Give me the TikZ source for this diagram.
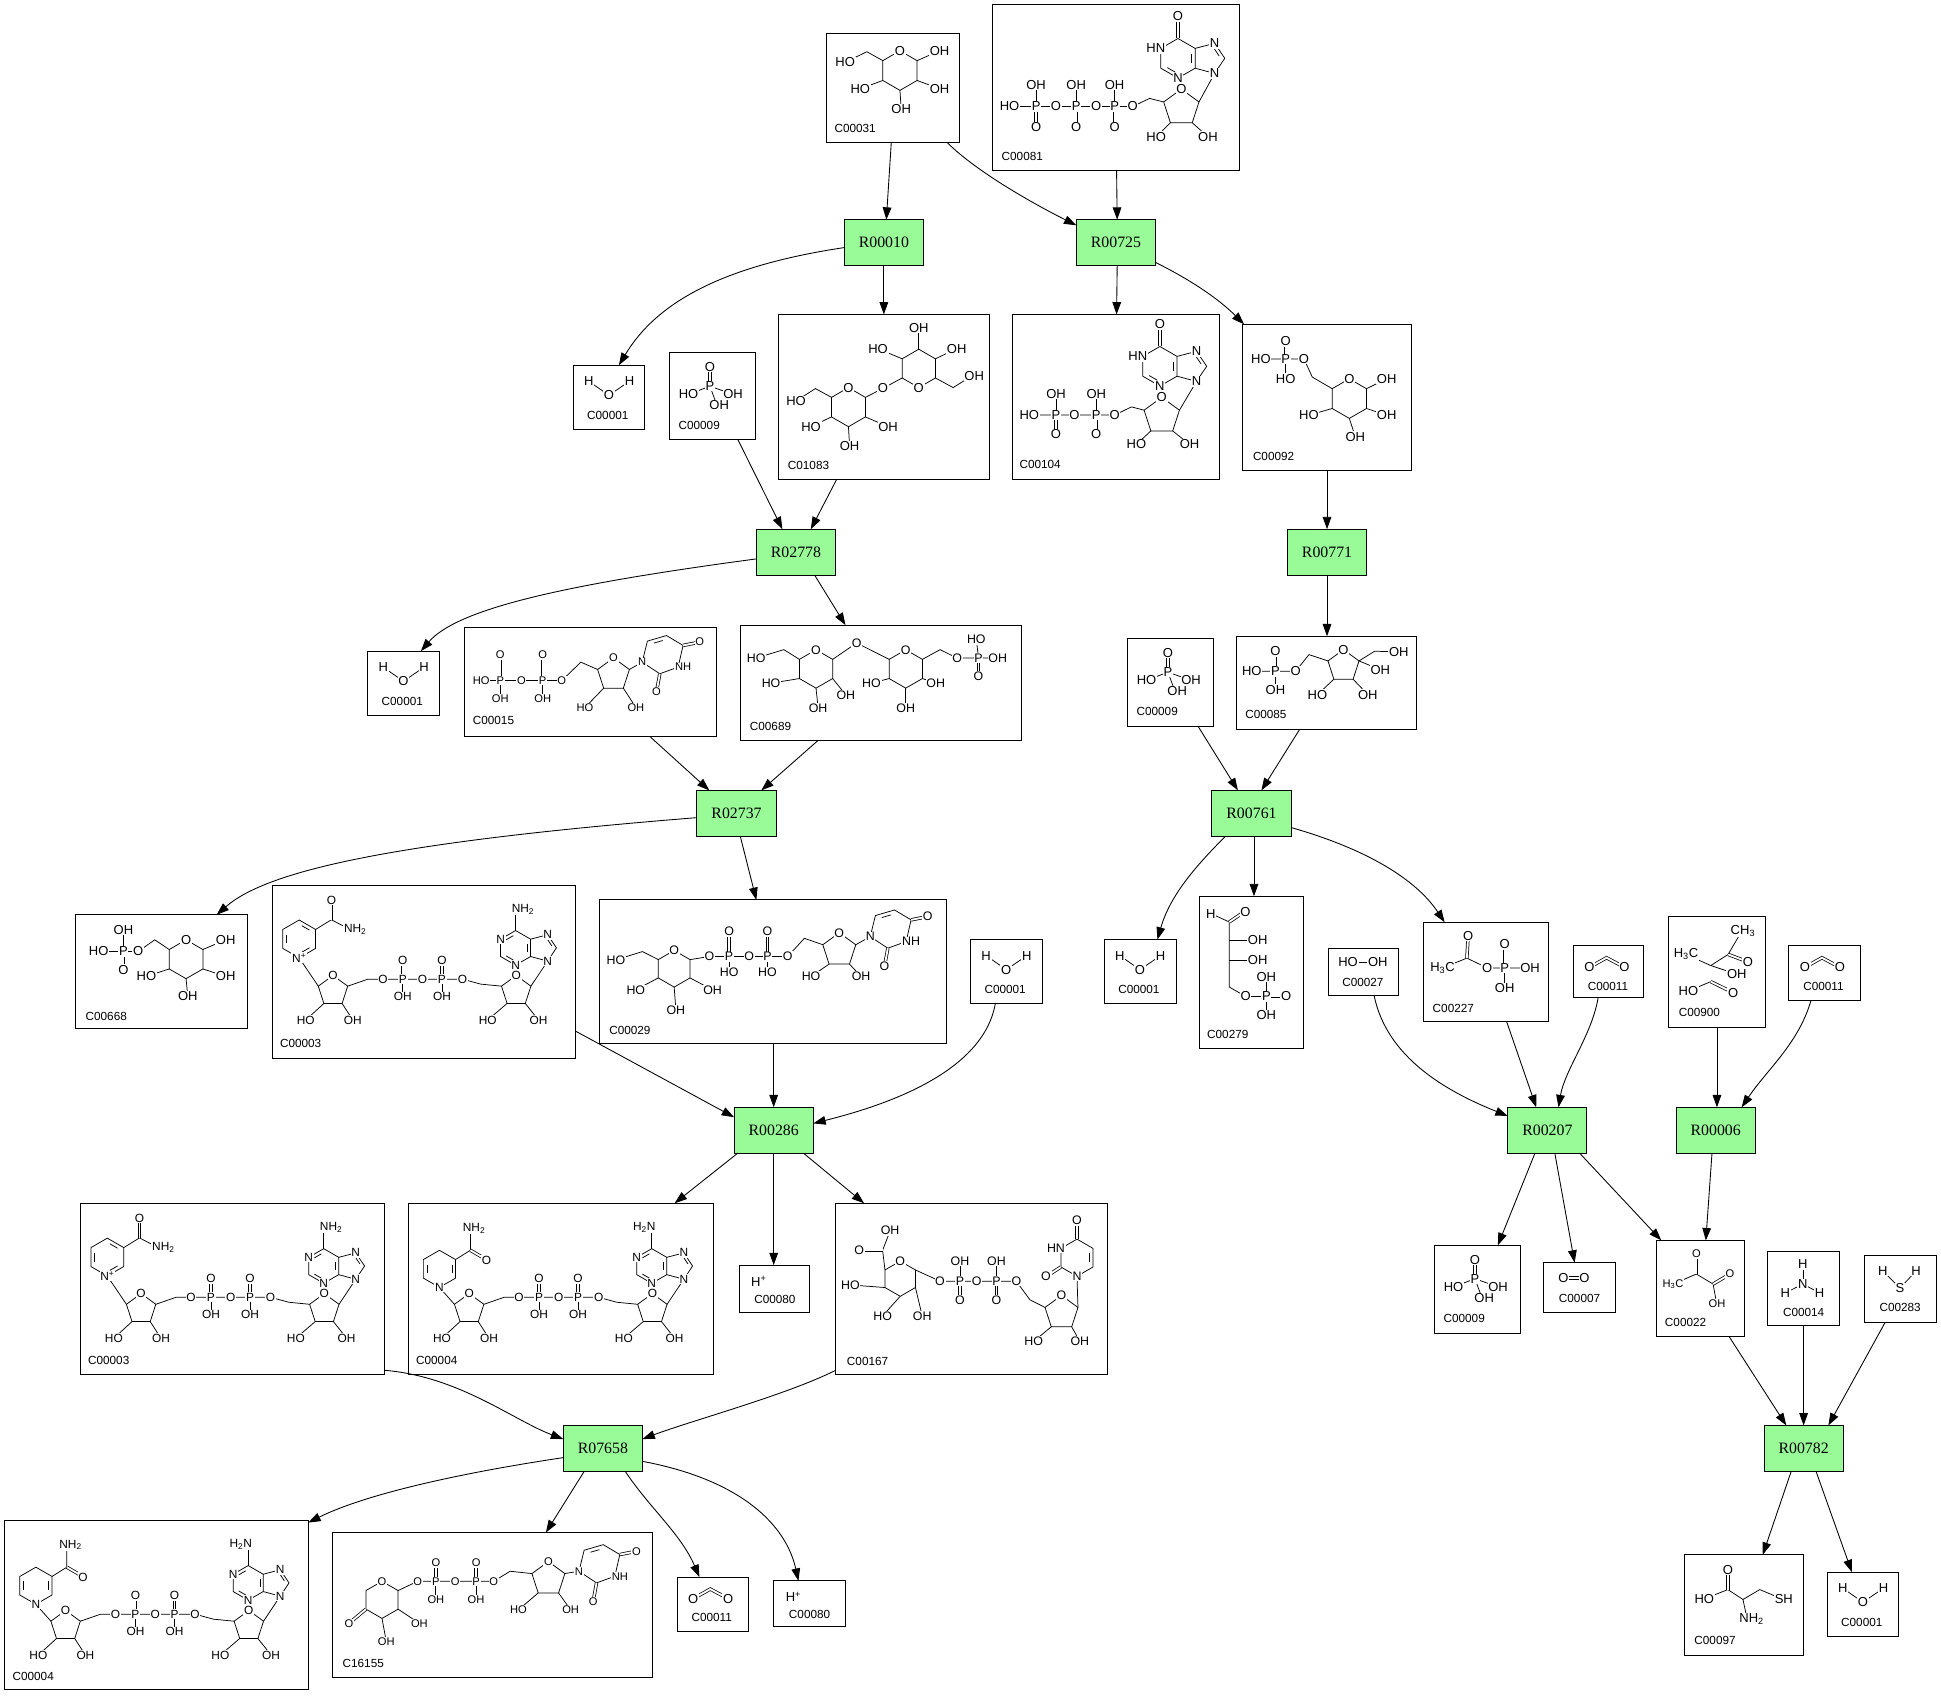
\documentclass[tikz,border=0pt]{standalone}
\usepackage{fontspec}
\setmainfont{Liberation Serif}
\setsansfont{Liberation Sans}
\usetikzlibrary{arrows.meta,calc}
\definecolor{rgreen}{RGB}{152,251,152}
\tikzset{
 cbox/.style={draw, line width=0.8pt, rectangle, inner sep=0pt, outer sep=0pt, anchor=north west},
 rbox/.style={draw, line width=0.8pt, fill=rgreen, rectangle, minimum width=64pt, minimum height=37pt, inner sep=0pt, outer sep=0pt, font=\fontsize{12.8}{12.8}\selectfont},
 cid/.style={font=\fontsize{9.5}{9.5}\sffamily, inner sep=0pt},
 arr/.style={line width=0.7pt, -{Triangle[length=10pt,width=7pt]}},
 bond/.style={line width=0.6pt},
 dblb/.style={line width=0.6pt, double, double distance=1.5pt},
 atm/.style={fill=white, inner sep=0.6pt, font=\fontsize{10.5}{10.5}\sffamily},
 fA/.style={atm/.append style={font=\fontsize{10.5}{10.5}\sffamily}},
 fB/.style={atm/.append style={font=\fontsize{9}{9}\sffamily}},
 fC/.style={atm/.append style={font=\fontsize{10}{10}\sffamily}},
 fN/.style={atm/.append style={font=\fontsize{9.6}{9.6}\sffamily}},
}
\newcommand\AT[3][]{\node[atm,#1] at (#2) {#3};}
\newcommand\hexc[4]{%
 \coordinate (#1c) at (#2,#3);
 \coordinate (#11) at ({#2},{#3-#4});
 \coordinate (#12) at ({#2+0.866*#4},{#3-0.5*#4});
 \coordinate (#13) at ({#2+0.866*#4},{#3+0.5*#4});
 \coordinate (#14) at ({#2},{#3+#4});
 \coordinate (#15) at ({#2-0.866*#4},{#3+0.5*#4});
 \coordinate (#16) at ({#2-0.866*#4},{#3-0.5*#4});
 \draw[bond] (#11)--(#12)--(#13)--(#14)--(#15)--(#16)--cycle;}
\newcommand\pentc[4]{%
 \coordinate (#1c) at (#2,#3);
 \coordinate (#11) at ({#2},{#3-#4});
 \coordinate (#12) at ({#2+0.951*#4},{#3-0.309*#4});
 \coordinate (#13) at ({#2+0.588*#4},{#3+0.809*#4});
 \coordinate (#14) at ({#2-0.588*#4},{#3+0.809*#4});
 \coordinate (#15) at ({#2-0.951*#4},{#3-0.309*#4});
 \draw[bond] (#11)--(#12)--(#13)--(#14)--(#15)--cycle;}
\newcommand\dbl[3]{%
 \coordinate (dbA) at ($(#1)!0.2!(#2)$);
 \coordinate (dbB) at ($(#2)!0.2!(#1)$);
 \draw[bond] ($(dbA)!0.22!(#3)$)--($(dbB)!0.22!(#3)$);}
\newcommand\Pbd[6]{\draw[bond] (#1,#2)--(#1,#3); \draw[dblb] (#1,#2)--(#1,#4); \AT{#1,#2}{P}\AT{#1,#3}{#5}\AT{#1,#4}{#6}}
\newcommand\Ptd[6]{\draw[dblb] (#1,#2)--(#1,#3); \draw[bond] (#1,#2)--(#1,#4); \AT{#1,#2}{P}\AT{#1,#3}{#5}\AT{#1,#4}{#6}}
\newcommand\hypox[2]{%
 \hexc{p}{#1}{#2}{16}
 \coordinate (p7) at ({#1+29.6},{#2-12.1});
 \coordinate (p8) at ({#1+37.8},{#2});
 \coordinate (p9) at ({#1+29.6},{#2+12.2});
 \coordinate (pm) at ({#1+23},{#2});
 \draw[bond] (p2)--(p7)--(p8)--(p9)--(p3);
 \draw[dblb] (p1)--({#1},{#2-32});
 \dbl{p2}{p3}{pc}\dbl{p4}{p5}{pc}\dbl{p7}{p8}{pm}}
\newcommand\hypoxlab[2]{\AT{{#1},{#2-34}}{O}\AT{$(p6)+(-4,0)$}{HN}\AT{p4}{N}\AT{p7}{N}\AT{p9}{N}}
\newcommand\adenine[4]{%
 \hexc{d}{#1}{#2}{14}
 \coordinate (d7) at ({#1+25.9},{#2-10.6});
 \coordinate (d8) at ({#1+33},{#2});
 \coordinate (d9) at ({#1+25.9},{#2+10.7});
 \coordinate (dm) at ({#1+21},{#2});
 \draw[bond] (d2)--(d7)--(d8)--(d9)--(d3);
 \draw[bond] (d1)--({#1},{#2-28});
 \dbl{d6}{d1}{dc}\dbl{d4}{d5}{dc}\dbl{d2}{d3}{dc}\dbl{d7}{d8}{dm}
 \AT{d6}{N}\AT{d4}{N}\AT{d7}{N}\AT{{#1+(#4)},{#2-31}}{#3}}
\newcommand\uracil[2]{%
 \coordinate (u1) at (#1,#2);
 \coordinate (u6) at ({#1+4.2},{#2-17});
 \coordinate (u5) at ({#1+19.6},{#2-21.5});
 \coordinate (u4) at ({#1+33},{#2-13.5});
 \coordinate (u3) at ({#1+29},{#2+4});
 \coordinate (u2) at ({#1+14.2},{#2+9.4});
 \coordinate (uc) at ({#1+16.7},{#2-6.4});
 \draw[bond] (u1)--(u6)--(u5)--(u4)--(u3)--(u2)--cycle;
 \dbl{u6}{u5}{uc}
 \draw[dblb] (u4)--({#1+46.5},{#2-16.2}); \draw[dblb] (u2)--({#1+11.5},{#2+24.2});}
\newcommand\uracillab[2]{\AT{u1}{N}\AT{$(u3)+(4,0)$}{NH}\AT{{#1+46.5},{#2-16.2}}{O}\AT{{#1+11.5},{#2+24.2}}{O}}
\newcommand\NADtail[2]{%
 \pentc{f}{49}{85.5}{12.5}
 \pentc{g}{197}{85.5}{12.5}
 \adenine{196.5}{50.7}{#1}{#2}
 \draw[bond] (f4)--(27,109); \draw[bond] (f3)--(65,109);
 \draw[bond] (f2)--(77.2,76)--(153.6,76)--(168.4,80)--(g5);
 \draw[bond] (g4)--(174,109); \draw[bond] (g3)--(215,109); \draw[bond] (g2)--(d9);
 \Ptd{105.4}{76}{61}{90}{O}{OH}\Ptd{137}{76}{61}{90}{O}{OH}
 \AT{d9}{N}\AT{f1}{O}\AT{g1}{O}\AT{89.3,76}{O}\AT{121.4,76}{O}\AT{153.6,76}{O}
 \AT{27,109}{HO}\AT{65,109}{OH}\AT{174,109}{HO}\AT{215,109}{OH}}
\newcommand\NADox{%
 \hexc{n}{21.7}{43.5}{15.3}
 \dbl{n5}{n6}{nc}\dbl{n1}{n2}{nc}\dbl{n3}{n4}{nc}
 \draw[bond] (n2)--(47.7,28)--(63,36); \draw[dblb] (47.7,28)--(47.7,13);
 \draw[bond] (n4)--(f5);
 \AT{47.7,12}{O}\AT{67,36}{NH\textsubscript{2}}\AT{n4}{N\textsuperscript{+}}}
\newcommand\NADred{%
 \hexc{n}{25}{53}{15}
 \dbl{n2}{n3}{nc}\dbl{n5}{n6}{nc}
 \draw[bond] (n2)--(50,38)--(50,25); \draw[dblb] (50,38)--(62,45);
 \draw[bond] (n4)--(f5);
 \AT{53,20}{NH\textsubscript{2}}\AT{63,46}{O}\AT{n4}{N}}
\newcommand\water{\draw[bond] (12.6,13)--(28.9,24.3)--(45.5,13); \AT{12.6,13}{H}\AT{28.9,24.3}{O}\AT{45.5,13}{H}}
\newcommand\phos{\draw[dblb] (32.5,27)--(32.5,12); \draw[bond] (15.2,33.6)--(32.5,27)--(51.2,33.6); \draw[bond] (32.5,27)--(38,42);
 \AT{32.5,27}{P}\AT{32.5,11.5}{O}\AT{15.2,33.6}{HO}\AT{51.2,33.6}{OH}\AT{40,42.5}{OH}}
\newcommand\cotwo{\draw[dblb] (13,17.4)--(26.8,9.7)--(41.3,17.4); \AT{13,17.4}{O}\AT{41.3,17.4}{O}}
\newcommand\hplus{\AT{16,13}{H\textsuperscript{+}}}
\newcommand\cmp[9][west]{%
 \node[cbox, minimum width=#5pt, minimum height=#6pt] (#2) at (#3,#4) {};
 \node[cid, anchor=#1] (#2id) at ($(#2.north west)+(#8,#9)$) {#7};}
\begin{document}
\begin{tikzpicture}[x=1pt,y=-1pt]
\fill[white] (0,0) rectangle (1568,1370);
\useasboundingbox (0,0) rectangle (1568,1370);

% ---------- reactions ----------
\node[rbox] (r10) at (714,196) {R00010};
\node[rbox] (r725) at (901.5,196) {R00725};
\node[rbox] (r2778) at (643,446) {R02778};
\node[rbox] (r771) at (1072,446) {R00771};
\node[rbox] (r2737) at (595,657) {R02737};
\node[rbox] (r761) at (1011,657) {R00761};
\node[rbox] (r286) at (625,913) {R00286};
\node[rbox] (r207) at (1250,913) {R00207};
\node[rbox] (r6) at (1386,913) {R00006};
\node[rbox] (r7658) at (487,1170) {R07658};
\node[rbox] (r782) at (1457,1170) {R00782};

% ---------- compounds ----------
\cmp{c31}{668}{27}{107}{88}{C00031}{6}{77}
\begin{scope}[shift={(c31.north west)},fA]
\hexc{a}{59}{30}{16}
\draw[bond] (a6)--(32.3,14.8)--(14.7,23.3);
\draw[bond] (a2)--(91,14); \draw[bond] (a3)--(91,44.7); \draw[bond] (a5)--(27,44.7); \draw[bond] (a4)--(60,61);
\AT{a1}{O}\AT{14.7,23.3}{HO}\AT{91,14}{OH}\AT{91,44.7}{OH}\AT{27,44.7}{HO}\AT{60,61}{OH}
\end{scope}

\cmp{c81}{802}{4}{199}{134}{C00081}{7}{122.6}
\begin{scope}[shift={(c81.north west)},fA]
\hypox{149.6}{43.1}
\pentc{f}{152.3}{83}{15}
\draw[bond] (f2)--(p9);
\draw[bond] (f5)--(126.7,75.5)--(113,82)--(13.5,82);
\draw[bond] (f4)--(132,106.5); \draw[bond] (f3)--(173.8,106.5);
\hypoxlab{149.6}{43.1}
\Pbd{98.4}{82}{64.7}{99}{OH}{O}\Pbd{67.4}{82}{64.7}{99}{OH}{O}\Pbd{35}{82}{64.7}{99}{OH}{O}
\AT{113,82}{O}\AT{83.6,82}{O}\AT{51,82}{O}\AT{13.5,82}{HO}\AT{f1}{O}\AT{132,106.5}{HO}\AT{173.8,106.5}{OH}
\end{scope}

\cmp[center]{c1a}{463}{295}{58}{52}{C00001}{28}{40.5}
\begin{scope}[shift={(c1a.north west)},fA]\water\end{scope}

\cmp{c9a}{541}{285}{69}{70}{C00009}{7}{58.5}
\begin{scope}[shift={(c9a.north west)},fA]\phos\end{scope}

\cmp{c1083}{629}{254}{170}{133}{C01083}{7.3}{121.8}
\begin{scope}[shift={(c1083.north west)},fA]
\hexc{a}{56.4}{74.9}{15.8}
\hexc{b}{113.2}{43.6}{15.5}
\draw[bond] (a6)--(29.7,59.9)--(14.1,69.9);
\draw[bond] (a5)--(26.2,90.6); \draw[bond] (a4)--(57.3,106.2); \draw[bond] (a3)--(88.4,90.6);
\draw[bond] (a2)--(84.3,59.7)--(b5);
\draw[bond] (b1)--(113.2,10.8); \draw[bond] (b6)--(80.3,27.7); \draw[bond] (b2)--(143.8,27.7);
\draw[bond] (b3)--(141,59.1)--(156,49.7);
\AT{a1}{O}\AT{b4}{O}\AT{84.3,59.7}{O}\AT{14.1,69.9}{HO}\AT{26.2,90.6}{HO}\AT{57.3,106.2}{OH}\AT{88.4,90.6}{OH}
\AT{113.2,10.8}{OH}\AT{80.3,27.7}{HO}\AT{143.8,27.7}{OH}\AT{158,49.7}{OH}
\end{scope}

\cmp{c104}{818}{254}{167}{133}{C00104}{5.4}{120.8}
\begin{scope}[shift={(c104.north west)},fA]
\hypox{119}{41.9}
\pentc{f}{120.5}{82}{15}
\draw[bond] (f2)--(p9);
\draw[bond] (f5)--(96,74.7)--(82.4,81.3)--(13.5,81.3);
\draw[bond] (f4)--(100,105); \draw[bond] (f3)--(143,105);
\hypoxlab{119}{41.9}
\Pbd{67.6}{81.3}{64}{97}{OH}{O}\Pbd{35.1}{81.3}{64}{97}{OH}{O}
\AT{82.4,81.3}{O}\AT{50,81.3}{O}\AT{13.5,81.3}{HO}\AT{f1}{O}\AT{100,105}{HO}\AT{143,105}{OH}
\end{scope}

\cmp{c92}{1004}{262}{136}{118}{C00092}{8}{106.8}
\begin{scope}[shift={(c92.north west)},fA]
\hexc{a}{86}{60}{16}
\draw[bond] (a2)--(116.2,44); \draw[bond] (a3)--(116.2,73.4); \draw[bond] (a4)--(90.8,90.7); \draw[bond] (a5)--(53.4,73.4);
\draw[bond] (a6)--(56.1,42.6)--(49.4,28)--(14.6,28);
\Ptd{34.6}{28}{13.6}{44}{O}{HO}
\AT{a1}{O}\AT{116.2,44}{OH}\AT{116.2,73.4}{OH}\AT{90.8,90.7}{OH}\AT{53.4,73.4}{HO}\AT{49.4,28}{O}\AT{14.6,28}{HO}
\end{scope}

\cmp[center]{c1b}{297}{526}{58}{52}{C00001}{28}{40.5}
\begin{scope}[shift={(c1b.north west)},fA]\water\end{scope}

\cmp{c15}{375}{507}{204}{88}{C00015}{6.8}{75.3}
\begin{scope}[shift={(c15.north west)},fB]
\pentc{f}{120.6}{38}{13.5}
\uracil{143.8}{27.9}
\draw[bond] (13.7,42.8)--(78.8,42.8)--(94.2,27.9)--(f5);
\draw[bond] (f4)--(97.6,64.5); \draw[bond] (f3)--(138.7,64.5);
\draw[bond] (f2)--(u1);
\Ptd{29.1}{42.8}{22}{57.7}{O}{OH}\Ptd{63.4}{42.8}{22}{57.7}{O}{OH}
\uracillab{143.8}{27.9}
\AT{13.7,42.8}{HO}\AT{46.2,42.8}{O}\AT{78.8,42.8}{O}\AT{f1}{O}\AT{97.6,64.5}{HO}\AT{138.7,64.5}{OH}
\end{scope}

\cmp{c689}{598}{505}{227}{93}{C00689}{7.6}{82}
\begin{scope}[shift={(c689.north west)},fC]
\hexc{a}{61.2}{35.4}{15.5}
\hexc{b}{133.7}{35.4}{15.5}
\draw[bond] (a6)--(35.2,19.8)--(12.8,26.6);
\draw[bond] (a5)--(24.9,46.9); \draw[bond] (a4)--(62.9,67.2); \draw[bond] (a3)--(85.3,56.4);
\draw[bond] (a2)--(94,14.4)--(b6);
\draw[bond] (b5)--(106,46.9); \draw[bond] (b4)--(133.7,67.2); \draw[bond] (b3)--(157.9,46.9);
\draw[bond] (b2)--(161.4,19.8)--(175.2,26.6)--(208,26.6);
\draw[bond] (192.5,26.6)--(190.7,11.7); \draw[dblb] (192.5,26.6)--(192.5,41.5);
\AT{a1}{O}\AT{b1}{O}\AT{12.8,26.6}{HO}\AT{24.9,46.9}{HO}\AT{62.9,67.2}{OH}\AT{85.3,56.4}{OH}\AT{94,14.4}{O}
\AT{106,46.9}{HO}\AT{133.7,67.2}{OH}\AT{157.9,46.9}{OH}\AT{175.2,26.6}{O}\AT{192.5,26.6}{P}\AT{190.7,11.7}{HO}\AT{192.5,41.5}{O}\AT{208,26.6}{OH}
\end{scope}

\cmp{c9b}{911}{516}{69}{71}{C00009}{7}{59}
\begin{scope}[shift={(c9b.north west)},fA]\phos\end{scope}

\cmp{c85}{999}{514}{145}{75}{C00085}{6.8}{63.3}
\begin{scope}[shift={(c85.north west)},fA]
\pentc{f}{86.3}{24}{13.2}
\draw[bond] (12.2,28.3)--(47.6,28.3)--(58.4,14.8)--(f5);
\draw[bond] (f2)--(111.4,12.1)--(131,12.5);
\draw[bond] (f2)--(116,27); \draw[bond] (f4)--(65.2,47.2); \draw[bond] (f3)--(106,47.2);
\Ptd{31.3}{28.3}{12.1}{43.1}{O}{OH}
\AT{12.2,28.3}{HO}\AT{47.6,28.3}{O}\AT{f1}{O}\AT{131,12.5}{OH}\AT{116,27}{OH}\AT{65.2,47.2}{HO}\AT{106,47.2}{OH}
\end{scope}

\cmp{c668}{61}{739}{139}{92}{C00668}{8}{82}
\begin{scope}[shift={(c668.north west)},fA]
\hexc{a}{89.3}{35.9}{15.7}
\draw[bond] (a6)--(64,20.2)--(50.7,29.6)--(18.7,29.6);
\draw[bond] (a2)--(121.3,20.2); \draw[bond] (a3)--(121.3,49.7); \draw[bond] (a5)--(57.3,49.7); \draw[bond] (a4)--(90.7,65.9);
\Pbd{38.7}{29.6}{12.1}{44.4}{OH}{O}
\AT{a1}{O}\AT{50.7,29.6}{O}\AT{18.7,29.6}{HO}\AT{121.3,20.2}{OH}\AT{121.3,49.7}{OH}\AT{57.3,49.7}{HO}\AT{90.7,65.9}{OH}
\end{scope}

\cmp{c3a}{220}{715}{245}{140}{C00003}{6}{128}
\begin{scope}[shift={(c3a.north west)},fN]\NADtail{NH\textsubscript{2}}{6}\NADox\end{scope}

\cmp{c29}{484}{727}{281}{116}{C00029}{8}{105.6}
\begin{scope}[shift={(c29.north west)},fC]
\hexc{a}{60.6}{55.6}{14.8}
\pentc{f}{194}{40.5}{14}
\uracil{219}{29.6}
\draw[bond] (a6)--(35,41.7)--(13.5,48.4);
\draw[bond] (a5)--(29.6,72.6); \draw[bond] (a4)--(62,88.7); \draw[bond] (a3)--(91.6,72.6);
\draw[bond] (a2)--(89,45.7)--(152.3,45.7)--(165.8,31)--(f5);
\draw[bond] (f4)--(171.2,61.8); \draw[bond] (f3)--(211.6,61.8);
\draw[bond] (f2)--(u1);
\Ptd{105}{45.7}{25.5}{58.3}{O}{HO}\Ptd{136}{45.7}{25.5}{58.3}{O}{HO}
\uracillab{219}{29.6}
\AT{a1}{O}\AT{13.5,48.4}{HO}\AT{29.6,72.6}{HO}\AT{62,88.7}{OH}\AT{91.6,72.6}{OH}\AT{89,45.7}{O}\AT{121.3,45.7}{O}\AT{152.3,45.7}{O}
\AT{f1}{O}\AT{171.2,61.8}{HO}\AT{211.6,61.8}{OH}
\end{scope}

\cmp[center]{c1c}{784}{759}{58}{52}{C00001}{28}{40.5}
\begin{scope}[shift={(c1c.north west)},fA]\water\end{scope}
\cmp[center]{c1d}{892}{759}{58}{52}{C00001}{28}{40.5}
\begin{scope}[shift={(c1d.north west)},fA]\water\end{scope}

\cmp{c279}{969}{724}{84}{123}{C00279}{6}{111.6}
\begin{scope}[shift={(c279.north west)},fA]
\draw[bond] (9.2,14)--(24,20.8)--(24,73.3)--(37.2,80.9)--(54,80.9);
\draw[dblb] (24,20.8)--(36,12.7);
\draw[bond] (24,35.6)--(46,35.6); \draw[bond] (24,51.8)--(46,51.8);
\draw[bond] (54,80.9)--(54,65.2); \draw[bond] (54,80.9)--(54,96.2); \draw[dblb] (54,80.9)--(70,80.9);
\AT{9.2,14}{H}\AT{37,12.5}{O}\AT{47,35.6}{OH}\AT{47,51.8}{OH}\AT{37.2,80.9}{O}\AT{54,80.9}{P}\AT{54,65.2}{OH}\AT{70,80.9}{O}\AT{54,96.2}{OH}
\end{scope}

\cmp[center]{c27}{1073}{766}{57}{38}{C00027}{28}{27.6}
\begin{scope}[shift={(c27.north west)},fA]
\draw[bond] (16,11.3)--(40,11.3); \AT{16,11.3}{HO}\AT{40,11.3}{OH}
\end{scope}

\cmp{c227}{1150}{745}{101}{80}{C00227}{7.2}{69.7}
\begin{scope}[shift={(c227.north west)},fA]
\draw[bond] (15.3,36.9)--(35,29)--(51.4,36.9)--(86,36.9);
\draw[dblb] (35,29)--(36,11); \draw[dblb] (65.5,36.9)--(65.5,17.8); \draw[bond] (65.5,36.9)--(65.5,53.3);
\AT{15.3,36.9}{H\textsubscript{3}C}\AT{36,11}{O}\AT{51.4,36.9}{O}\AT{65.5,36.9}{P}\AT{65.5,17.8}{O}\AT{86,36.9}{OH}\AT{65.5,53.3}{OH}
\end{scope}

\cmp[center]{c11a}{1271}{764}{57}{42}{C00011}{28}{33}
\begin{scope}[shift={(c11a.north west)},fA]\cotwo\end{scope}

\cmp{c900}{1348}{740}{78}{90}{C00900}{8}{78}
\begin{scope}[shift={(c900.north west)},fA]
\draw[bond] (14,31)--(34,40)--(48,31)--(58,14); \draw[dblb] (48,31)--(64,37); \draw[bond] (34,40)--(55,47);
\draw[bond] (16,60.5)--(34,53); \draw[dblb] (34,53)--(52,61.8);
\AT{14,31}{H\textsubscript{3}C}\AT{60,12}{CH\textsubscript{3}}\AT{64,37}{O}\AT{55,47}{OH}\AT{16,60.5}{HO}\AT{52,61.8}{O}
\end{scope}

\cmp[center]{c11b}{1445}{764}{58}{44}{C00011}{28}{33}
\begin{scope}[shift={(c11b.north west)},fA]\cotwo\end{scope}

\cmp{c3b}{65}{972}{246}{138}{C00003}{6}{127}
\begin{scope}[shift={(c3b.north west)},fN]\NADtail{NH\textsubscript{2}}{6}\NADox\end{scope}

\cmp{c4a}{330}{972}{246}{138}{C00004}{6}{127}
\begin{scope}[shift={(c4a.north west)},fN]\NADtail{H\textsubscript{2}N}{-6}\NADred\end{scope}

\cmp[center]{c80a}{597}{1022}{57}{38}{C00080}{29}{27.6}
\begin{scope}[shift={(c80a.north west)},fA]\hplus\end{scope}

\cmp{c167}{675}{972}{220}{138}{C00167}{9}{127.8}
\begin{scope}[shift={(c167.north west)},fC]
\hexc{a}{52.2}{61}{14.2}
\pentc{f}{182.5}{88.5}{14}
\hexc{u}{195}{44}{15}
\draw[bond] (a6)--(38,38)--(44,22.5); \draw[dblb] (38,38)--(20,38);
\draw[bond] (a5)--(12,66); \draw[bond] (a4)--(38,91); \draw[bond] (a3)--(70,91);
\draw[bond] (a2)--(84.4,63)--(146,63)--(157,78)--(f5);
\draw[bond] (f4)--(160,111.6); \draw[bond] (f3)--(197.3,111.6);
\draw[bond] (f2)--(u4);
\dbl{u2}{u3}{uc}
\draw[dblb] (u1)--(195,16); \draw[dblb] (u5)--(172,58);
\Pbd{100.5}{63}{46.8}{78}{OH}{O}\Pbd{130}{63}{46.8}{78}{OH}{O}
\AT{a1}{O}\AT{44,22}{OH}\AT{19,38}{O}\AT{12,66}{HO}\AT{38,91}{HO}\AT{70,91}{OH}\AT{84.4,63}{O}\AT{114,63}{O}\AT{146,63}{O}
\AT{f1}{O}\AT{160,111.6}{HO}\AT{197.3,111.6}{OH}\AT{u4}{N}\AT{$(u6)+(-4,0)$}{HN}\AT{195,14}{O}\AT{170,59}{O}
\end{scope}

\cmp{c9c}{1159}{1006}{69}{71}{C00009}{7}{59}
\begin{scope}[shift={(c9c.north west)},fA]\phos\end{scope}

\cmp[center]{c7}{1247}{1020}{58}{40}{C00007}{29}{28.6}
\begin{scope}[shift={(c7.north west)},fA]
\draw[dblb] (16,12.5)--(33,12.5); \AT{16,12.5}{O}\AT{33,12.5}{O}
\end{scope}

\cmp{c22}{1338}{1002}{71}{78}{C00022}{6.8}{66}
\begin{scope}[shift={(c22.north west)},fB]
\draw[bond] (13.5,35.3)--(32.4,27.2)--(45.9,35.3)--(48.6,50.3);
\draw[dblb] (32.4,27.2)--(32.4,11); \draw[dblb] (45.9,35.3)--(59.5,27.2);
\AT{13.5,35.3}{H\textsubscript{3}C}\AT{32.4,10.9}{O}\AT{59.5,27.2}{O}\AT{49,51}{OH}
\end{scope}

\cmp[center]{c14}{1428}{1011}{58}{60}{C00014}{29}{49}
\begin{scope}[shift={(c14.north west)},fA]
\draw[bond] (28.4,10.5)--(28.4,26.3); \draw[bond] (14.3,33.4)--(28.4,26.3)--(41.9,33.4);
\AT{28.4,10.5}{H}\AT{28.4,26.3}{N}\AT{14.3,33.4}{H}\AT{41.9,33.4}{H}
\end{scope}

\cmp[center]{c283}{1506}{1014}{58}{54}{C00283}{29}{42.4}
\begin{scope}[shift={(c283.north west)},fA]
\draw[bond] (14.9,12.7)--(28.9,26.5)--(41.9,12.7);
\AT{14.9,12.7}{H}\AT{28.9,26.5}{S}\AT{41.9,12.7}{H}
\end{scope}

\cmp{c4b}{4}{1228}{245}{137}{C00004}{6}{126}
\begin{scope}[shift={(c4b.north west)},fN]\NADtail{H\textsubscript{2}N}{-6}\NADred\end{scope}

\cmp{c16155}{269}{1238}{258}{117}{C16155}{7.6}{106}
\begin{scope}[shift={(c16155.north west)},fB]
\hexc{a}{39.6}{54.4}{15}
\pentc{f}{174}{37.5}{14}
\uracil{198.7}{31.3}
\draw[dblb] (a5)--(12.9,73.4);
\draw[bond] (a4)--(43.1,88.3); \draw[bond] (a3)--(69.8,73.4);
\draw[bond] (a2)--(68.4,39.4)--(129.8,39.4)--(143.1,31.3)--(f5);
\draw[bond] (f4)--(149.8,62.5); \draw[bond] (f3)--(192,62.5);
\draw[bond] (f2)--(u1);
\Ptd{83.1}{39.4}{24.5}{54.3}{O}{OH}\Ptd{115.6}{39.4}{24.5}{54.3}{O}{OH}
\uracillab{198.7}{31.3}
\AT{a1}{O}\AT{12.9,73.4}{O}\AT{43.1,88.3}{OH}\AT{69.8,73.4}{OH}\AT{68.4,39.4}{O}\AT{98.7,39.4}{O}\AT{129.8,39.4}{O}
\AT{f1}{O}\AT{149.8,62.5}{HO}\AT{192,62.5}{OH}
\end{scope}

\cmp[center]{c11c}{547}{1274}{58}{44}{C00011}{28}{33}
\begin{scope}[shift={(c11c.north west)},fA]\cotwo\end{scope}

\cmp[center]{c80b}{625}{1277}{58}{37}{C00080}{29}{27}
\begin{scope}[shift={(c80b.north west)},fA]\hplus\end{scope}

\cmp{c97}{1361}{1256}{96}{81}{C00097}{7.6}{69.5}
\begin{scope}[shift={(c97.north west)},fA]
\draw[bond] (15.8,35.6)--(34.8,28.1)--(47,36.1)--(60.6,28.1)--(79.6,36.1);
\draw[dblb] (34.8,28.1)--(34.8,12); \draw[bond] (47,36.1)--(50,50);
\AT{34.8,12}{O}\AT{15.8,35.6}{HO}\AT{54,52.1}{NH\textsubscript{2}}\AT{80,36.1}{SH}
\end{scope}

\cmp[center]{c1e}{1476}{1270}{58}{52}{C00001}{28}{40.5}
\begin{scope}[shift={(c1e.north west)},fA]\water\end{scope}

% ---------- connectors ----------
\draw[arr] ($(c31.north west)+(52,88)$) -- ($(r10.north west)+(34,0)$);
\draw[arr] ($(c31.north west)+(97,88)$) .. controls +(25,25) and +(-30,-15) .. ($(r725.north west)+(0,4.5)$);
\draw[arr] ($(c81.north west)+(100,134)$) -- ($(r725.north west)+(33,0)$);
\draw[arr] ($(r10.north west)+(0,22.5)$) .. controls +(-100,15) and +(30,-50) .. ($(c1a.north west)+(37,0)$);
\draw[arr] ($(r10.north west)+(32,37)$) -- ($(c1083.north west)+(85,0)$);
\draw[arr] ($(r725.north west)+(33,37)$) -- ($(c104.north west)+(84,0)$);
\draw[arr] ($(r725.north west)+(64,34.5)$) .. controls +(30,15) and +(-20,-20) .. ($(c92.north west)+(1,0)$);
\draw[arr] ($(c9a.north west)+(55,70)$) -- ($(r2778.north west)+(21,0)$);
\draw[arr] ($(c1083.north west)+(47,133)$) -- ($(r2778.north west)+(44,0)$);
\draw[arr] ($(c92.north west)+(68,118)$) -- ($(r771.north west)+(32,0)$);
\draw[arr] ($(r2778.north west)+(0,24)$) .. controls +(-150,20) and +(30,-35) .. ($(c1b.north west)+(43,0)$);
\draw[arr] ($(r2778.north west)+(47,37)$) -- ($(c689.north west)+(85,0)$);
\draw[arr] ($(c15.north west)+(150,88)$) -- ($(r2737.north west)+(10,0)$);
\draw[arr] ($(c689.north west)+(63,93)$) -- ($(r2737.north west)+(52,0)$);
\draw[arr] ($(r771.north west)+(32,37)$) -- ($(c85.north west)+(73,0)$);
\draw[arr] ($(c9b.north west)+(57,71)$) -- ($(r761.north west)+(21,0)$);
\draw[arr] ($(c85.north west)+(51,75)$) -- ($(r761.north west)+(40,0)$);
\draw[arr] ($(r2737.north west)+(0,22)$) .. controls +(-250,20) and +(40,-35) .. ($(c668.north west)+(114,0)$);
\draw[arr] ($(r2737.north west)+(35,37)$) -- ($(c29.north west)+(127,0)$);
\draw[arr] ($(r761.north west)+(11,37)$) .. controls +(-25,25) and +(10,-35) .. ($(c1d.north west)+(43,0)$);
\draw[arr] ($(r761.north west)+(34,37)$) -- ($(c279.north west)+(44,0)$);
\draw[arr] ($(r761.north west)+(64,30)$) .. controls +(70,20) and +(-20,-30) .. ($(c227.north west)+(17,0)$);
\draw[arr] ($(c3a.north west)+(245,118)$) -- ($(r286.north west)+(0,8)$);
\draw[arr] ($(c29.north west)+(141,116)$) -- ($(r286.north west)+(32,0)$);
\draw[arr] ($(c1c.north west)+(20,52)$) .. controls +(-10,55) and +(60,-15) .. ($(r286.north west)+(64,13)$);
\draw[arr] ($(c27.north west)+(37,38)$) .. controls +(10,50) and +(-50,-20) .. ($(r207.north west)+(0,7)$);
\draw[arr] ($(c227.north west)+(67,80)$) -- ($(r207.north west)+(23,0)$);
\draw[arr] ($(c11a.north west)+(20,42)$) .. controls +(-5,30) and +(5,-30) .. ($(r207.north west)+(41,0)$);
\draw[arr] ($(c900.north west)+(39,90)$) -- ($(r6.north west)+(33,0)$);
\draw[arr] ($(c11b.north west)+(18,44)$) .. controls +(-10,35) and +(20,-30) .. ($(r6.north west)+(53,0)$);
\draw[arr] ($(r286.north west)+(3,37)$) -- ($(c4a.north west)+(215,0)$);
\draw[arr] ($(r286.north west)+(32,37)$) -- ($(c80a.north west)+(28,0)$);
\draw[arr] ($(r286.north west)+(56,37)$) -- ($(c167.north west)+(23,0)$);
\draw[arr] ($(r207.north west)+(22,37)$) -- ($(c9c.north west)+(51,0)$);
\draw[arr] ($(r207.north west)+(38,37)$) -- ($(c7.north west)+(25,0)$);
\draw[arr] ($(r207.north west)+(58,37)$) -- ($(c22.north west)+(4,0)$);
\draw[arr] ($(r6.north west)+(29,37)$) -- ($(c22.north west)+(40,0)$);
\draw[arr] ($(c3b.north west)+(246,135)$) .. controls +(60,5) and +(-40,-15) .. ($(r7658.north west)+(0,11)$);
\draw[arr] ($(c167.north west)+(0,135)$) .. controls +(-40,20) and +(40,-15) .. ($(r7658.north west)+(64,11)$);
\draw[arr] ($(c22.north west)+(59,78)$) -- ($(r782.north west)+(18,0)$);
\draw[arr] ($(c14.north west)+(29,60)$) -- ($(r782.north west)+(32,0)$);
\draw[arr] ($(c283.north west)+(17,54)$) -- ($(r782.north west)+(52,0)$);
\draw[arr] ($(r7658.north west)+(0,26)$) .. controls +(-100,15) and +(40,-20) .. ($(c4b.north west)+(245,2)$);
\draw[arr] ($(r7658.north west)+(17,37)$) -- ($(c16155.north west)+(172,0)$);
\draw[arr] ($(r7658.north west)+(50,37)$) .. controls +(20,30) and +(-15,-35) .. ($(c11c.north west)+(18,0)$);
\draw[arr] ($(r7658.north west)+(64,29)$) .. controls +(80,15) and +(-10,-45) .. ($(c80b.north west)+(20,0)$);
\draw[arr] ($(r782.north west)+(22,37)$) -- ($(c97.north west)+(63,0)$);
\draw[arr] ($(r782.north west)+(42,37)$) -- ($(c1e.north west)+(20,0)$);
\end{tikzpicture}
\end{document}
